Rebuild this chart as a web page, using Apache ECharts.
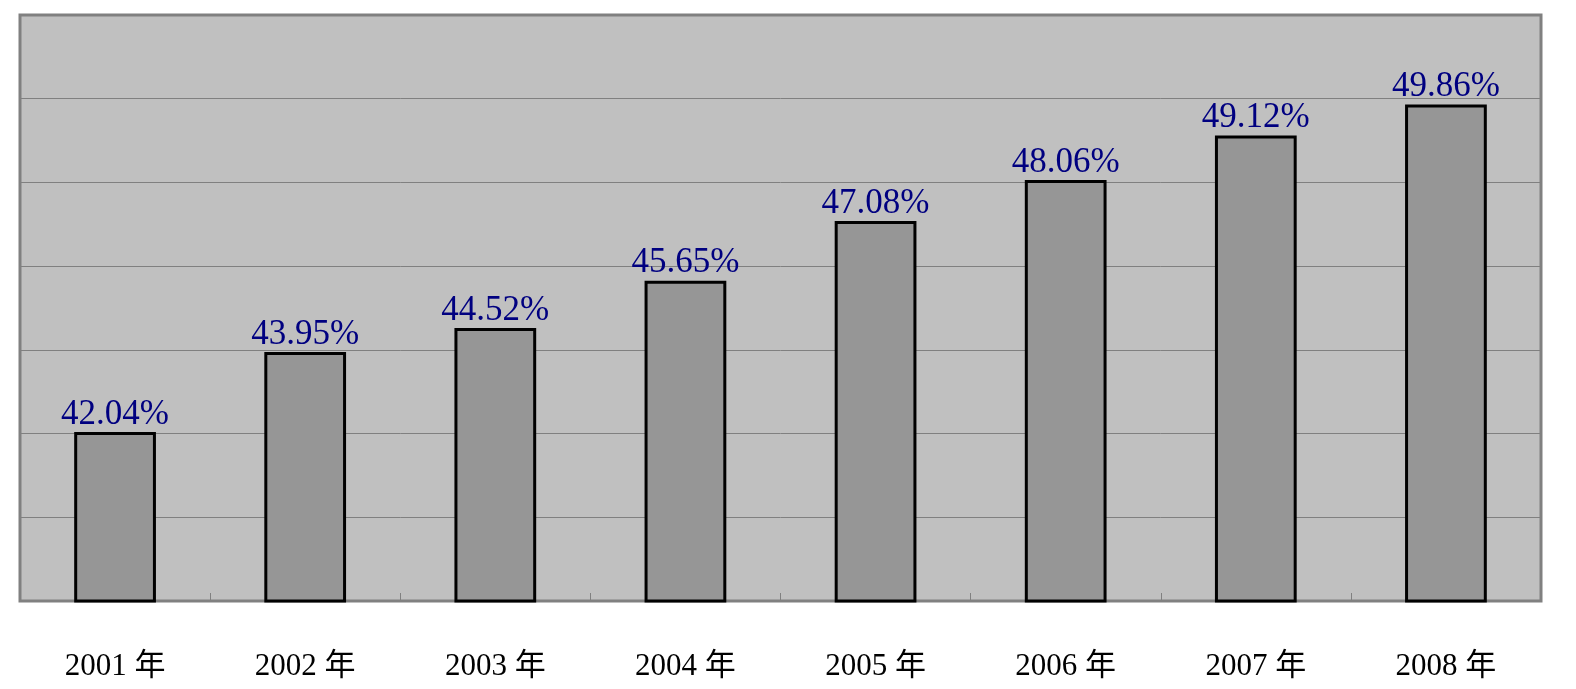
<!DOCTYPE html>
<html><head><meta charset="utf-8">
<script src="https://cdn.jsdelivr.net/npm/echarts@6/dist/echarts.min.js"></script>
<style>html,body{margin:0;padding:0;background:#fff}#c{width:1576px;height:689px}</style>
</head><body><div id="c"></div>
<script>
const categories = ['2001 年','2002 年','2003 年','2004 年','2005 年','2006 年','2007 年','2008 年'];
const values = [42.04, 43.95, 44.52, 45.65, 47.08, 48.06, 49.12, 49.86];
const yMin = 38, yMax = 52, yInterval = 2;

const chart = echarts.init(document.getElementById('c'), null, {renderer:'canvas'});
chart.setOption({
  animation:false,
  backgroundColor:'#ffffff',
  grid:{left:20,right:35,top:15,bottom:88,show:true,backgroundColor:'#C0C0C0',borderColor:'#808080',borderWidth:3},
  xAxis:{type:'category',data:categories,
    axisLine:{show:true,lineStyle:{color:'#808080',width:2}},
    axisTick:{show:true,inside:true,length:8,lineStyle:{color:'#808080',width:1}},
    axisLabel:{color:'#000',fontFamily:'"Liberation Serif","Noto Sans CJK SC",serif',fontSize:31,margin:50}
  },
  yAxis:{type:'value',min:yMin,max:yMax,interval:yInterval,
    axisLabel:{show:false},axisLine:{show:false},axisTick:{show:false},
    splitLine:{show:true,lineStyle:{color:'#808080',width:1}}
  },
  series:[{type:'bar',data:values,barWidth:'43%',
    itemStyle:{color:'#969696',borderColor:'#000',borderWidth:3},
    label:{show:true,position:'top',distance:0,color:'#000080',fontFamily:'"Liberation Serif",serif',fontSize:35,
      formatter:p=>p.value.toFixed(2)+'%'}
  }]
});
</script></body></html>
